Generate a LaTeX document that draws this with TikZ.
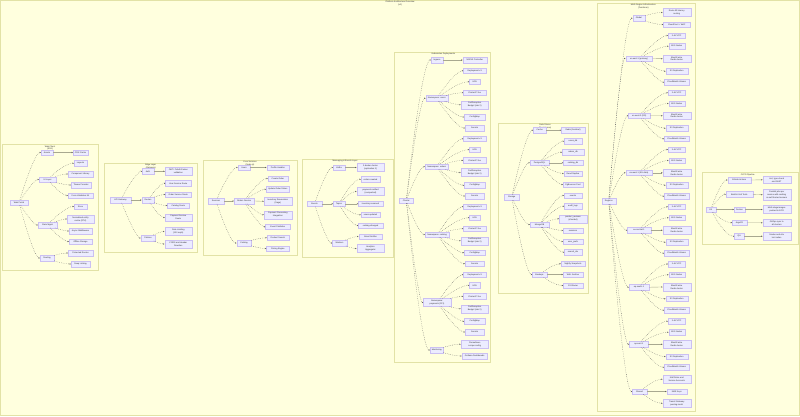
\documentclass[tikz,border=0pt]{standalone}
\usepackage{fontspec}
\setmainfont{Liberation Sans}
\usetikzlibrary{calc,arrows.meta}
\definecolor{nfill}{HTML}{ECECFF}
\definecolor{nline}{HTML}{CBC0F2}
\definecolor{cfill}{HTML}{FFFFDE}
\definecolor{cline}{HTML}{E2E2A6}
\definecolor{txt}{HTML}{333333}
\definecolor{eline}{HTML}{5A5A5A}
\definecolor{hline}{HTML}{A8A890}
\tikzset{
 nd/.style={draw=nline, fill=nfill, line width=0.3pt, rectangle, align=center, inner xsep=1.6pt, inner ysep=1.6pt, minimum height=5.5pt, text=txt, font=\fontsize{2.1}{2.9}\selectfont},
 clus/.style={draw=cline, fill=cfill, line width=0.4pt},
 ctitle/.style={text=txt, align=center, font=\fontsize{2.1}{2.9}\selectfont, inner sep=0pt},
 edge/.style={draw=eline, line width=0.3pt, dash pattern=on 0.6pt off 1.2pt, -{Stealth[length=1.4pt,width=1.2pt]}},
 flatedge/.style={draw=hline, line width=0.35pt, -{Stealth[length=1.4pt,width=1.2pt,color=eline]}},
}
\newcommand\N[5]{\node[nd, minimum width=#4] (#1) at (#2,#3) {#5};}
\newcommand\E[2]{%
 \pgfpointanchor{#1}{center}\pgfgetlastxy{\eax}{\eay}%
 \pgfpointanchor{#2}{center}\pgfgetlastxy{\ebx}{\eby}%
 \pgfmathsetmacro\edd{abs(\eay-\eby)}%
 \ifdim\edd pt<0.6pt
  \draw[flatedge] (#1.east) -- (#2.west);
 \else
  \path ($(#1.east)!0.5!(#2.west)$) coordinate (mm) (mm |- #2.west) coordinate (pp) ($(#1.center)!0.667!(pp)$) coordinate (ca) ($(#2.west)!0.667!(pp)$) coordinate (cb);
  \draw[edge] (#1) .. controls (ca) and (cb) .. (#2.west);
 \fi}
\newcommand\SixE[8]{%
 \N{#11}{474.7}{#3}{22.7}{Deployment x3}\E{#2}{#11}
 \N{#12}{474.7}{#4}{10.7}{HPA}\E{#2}{#12}
 \N{#13}{474.7}{#5}{22.7}{ClusterIP Svc}\E{#2}{#13}
 \N{#14}{474.7}{#6}{27.7}{PodDisruption\\Budget (min 2)}\E{#2}{#14}
 \N{#15}{474.7}{#7}{21}{ConfigMap}\E{#2}{#15}
 \N{#16}{474.7}{#8}{19.3}{Secrets}\E{#2}{#16}}
\newcommand\FiveG[7]{%
 \N{#11}{676.7}{#3}{17.3}{3-AZ VPC}\E{#2}{#11}
 \N{#12}{676.7}{#4}{16}{EKS Nodes}\E{#2}{#12}
 \N{#13}{676.7}{#5}{28}{ElastiCache\\Redis cluster}\E{#2}{#13}
 \N{#14}{676.7}{#6}{22}{S3 Replication}\E{#2}{#14}
 \N{#15}{676.7}{#7}{25}{CloudWatch Alarms}\E{#2}{#15}}
\begin{document}
\begin{tikzpicture}[x=1pt,y=-1pt]
\useasboundingbox (0,0) rectangle (800,416);
% outer
\draw[clus] (0.5,0.5) rectangle (799.5,415.5);
\node[ctitle] (title) at (400,3.4) {Platform Architecture Overview\\(v2)};
% clusters
\draw[clus] (2,144) rectangle (98,270);
\node[ctitle] (ta) at (50,148) {Web Client\\(SPA)};
\draw[clus] (104,163.3) rectangle (196.7,251.7);
\node[ctitle] (tb) at (150.7,166.5) {Edge Layer\\(Gateway)};
\draw[clus] (203.3,160) rectangle (296.7,255.5);
\node[ctitle] (tc) at (250,163.3) {Core Services\\(Node.js)};
\draw[clus] (301.7,159) rectangle (393.5,257);
\node[ctitle] (td) at (345,161) {Messaging \& Events Layer};
\draw[clus] (394,51.7) rectangle (490,362);
\node[ctitle] (te) at (443.3,54.3) {Kubernetes Deployments};
\draw[clus] (498.3,123.3) rectangle (587.7,292.7);
\node[ctitle] (tf) at (545,126.2) {Data Stores\\(Persistence)};
\draw[clus] (596.7,3.3) rectangle (695,411);
\node[ctitle] (tg) at (643.3,6.7) {Multi-Region Infrastructure\\(Terraform)};
\draw[clus] (701.7,172) rectangle (798.3,244);
\node[ctitle] (th) at (747.7,174.8) {CI/CD Pipeline};

% ---- A
\N{ar}{19}{202.5}{18}{Web Portal}
\N{am1}{47}{152.5}{12}{Assets}
\N{am2}{47.5}{179.5}{17}{UI Layer}
\N{am3}{47.5}{225}{19}{State Mgmt}
\N{am4}{47}{258}{14}{Routing}
\N{al1}{80.5}{152.5}{15}{CDN Cache}
\N{al2}{80.5}{163.3}{13}{Layouts}
\N{al3}{80.5}{174}{25}{Component Library}
\N{al4}{81}{185}{20}{Theme Provider}
\N{al5}{80.5}{195.5}{25}{Form Validation Kit}
\N{al6}{80.5}{206.5}{13}{Store}
\N{al7}{80.5}{219}{27}{Normalized entity\\cache (RTK)}
\N{al8}{80.5}{231}{23}{Async Middleware}
\N{al9}{80.5}{241.5}{23}{Offline Storage}
\N{al10}{80.5}{253}{25}{Protected Routes}
\N{al11}{80.5}{264}{19}{Deep Linking}
\E{ar}{am1}\E{ar}{am2}\E{ar}{am3}\E{ar}{am4}
\E{am1}{al1}
\E{am2}{al2}\E{am2}{al3}\E{am2}{al4}\E{am2}{al5}
\E{am3}{al6}\E{am3}{al7}\E{am3}{al8}\E{am3}{al9}
\E{am4}{al10}\E{am4}{al11}

% ---- B
\N{br}{120.5}{200}{21}{API Gateway}
\N{bm1}{148}{171.3}{11.5}{Auth}
\N{bm2}{148}{200}{12.6}{Routes}
\N{bm3}{148}{238}{14.3}{Policies}
\N{bl1}{178.3}{171.3}{26.7}{JWT / OAuth2 token\\validation}
\N{bl2}{178.3}{183.3}{25.7}{User Service Route}
\N{bl3}{178.3}{194.5}{25.7}{Order Service Route}
\N{bl4}{178.3}{205.5}{21.7}{Catalog Route}
\N{bl5}{178.3}{217.5}{26.7}{Payment Service\\Route}
\N{bl6}{178.3}{231.5}{27.3}{Rate Limiting\\(100 req/s)}
\N{bl7}{178.3}{244}{27.3}{CORS and Header\\Rewrites}
\E{br}{bm1}\E{br}{bm2}\E{br}{bm3}
\E{bm1}{bl1}
\E{bm2}{bl2}\E{bm2}{bl3}\E{bm2}{bl4}\E{bm2}{bl5}
\E{bm3}{bl6}\E{bm3}{bl7}

% ---- C
\N{cr}{216}{201}{15.7}{Services}
\N{cm1}{244}{167.5}{12.3}{Users}
\N{cm2}{244}{201}{20}{Orders Service}
\N{cm3}{244}{243}{14.7}{Catalog}
\N{cl1}{277.8}{167.5}{22.3}{Profile Handler}
\N{cl2}{277.8}{178.5}{19.7}{Create Order}
\N{cl3}{277.8}{189.3}{23.3}{Update Order Status}
\N{cl4}{277.8}{201.3}{27.7}{Inventory Reservation\\(Saga)}
\N{cl5}{277.8}{214.7}{27.7}{Payment Processing\\Integration}
\N{cl6}{277.8}{226.8}{24.7}{Event Publisher}
\N{cl7}{277.8}{237.8}{21.7}{Product Search}
\N{cl8}{277.8}{248.5}{22.7}{Pricing Engine}
\E{cr}{cm1}\E{cr}{cm2}\E{cr}{cm3}
\E{cm1}{cl1}
\E{cm2}{cl2}\E{cm2}{cl3}\E{cm2}{cl4}\E{cm2}{cl5}\E{cm2}{cl6}
\E{cm3}{cl7}\E{cm3}{cl8}

% ---- D
\N{dr}{314.5}{203.8}{14.4}{Events}
\N{dm1}{339}{167.5}{11.7}{Kafka}
\N{dm2}{339}{203.8}{11.7}{Topics}
\N{dm3}{339.5}{243}{14.4}{Workers}
\N{dl1}{370.5}{167.5}{27.6}{3-broker cluster\\(replication 3)}
\N{dl2}{370.5}{179.3}{19}{orders.created}
\N{dl3}{370.5}{191.5}{27.6}{payments.settled\\(compacted)}
\N{dl4}{370.5}{203.8}{24.3}{inventory.reserved}
\N{dl5}{370.5}{214.8}{19}{users.updated}
\N{dl6}{370.5}{225.5}{24.3}{catalog.changed}
\N{dl7}{370.5}{236.5}{23.7}{Email Notifier}
\N{dl8}{370.5}{248.5}{27.6}{Analytics\\Aggregator}
\E{dr}{dm1}\E{dr}{dm2}\E{dr}{dm3}
\E{dm1}{dl1}
\E{dm2}{dl2}\E{dm2}{dl3}\E{dm2}{dl4}\E{dm2}{dl5}\E{dm2}{dl6}
\E{dm3}{dl7}\E{dm3}{dl8}

% ---- E
\N{er}{406.3}{200.5}{14}{Cluster}
\N{em1}{437}{60}{11.7}{Ingress}
\N{em2}{436.7}{98.3}{22}{Namespace: users}
\N{em3}{436.7}{166.7}{23.3}{Namespace: orders}
\N{em4}{437}{234.5}{24}{Namespace: catalog}
\N{em5}{437}{302.5}{27.3}{Namespace:\\payments (PCI)}
\N{em6}{436.7}{350}{13.3}{Monitoring}
\E{er}{em1}\E{er}{em2}\E{er}{em3}\E{er}{em4}\E{er}{em5}\E{er}{em6}
\N{el0}{474.7}{60}{24}{NGINX Controller}
\E{em1}{el0}
\SixE{ea}{em2}{70.8}{81.8}{92.7}{104.7}{117}{128}
\SixE{eb}{em3}{138.8}{149.7}{160.3}{172.5}{185.3}{196}
\SixE{ec}{em4}{206.7}{217.7}{228.7}{240.7}{252.7}{263.7}
\SixE{ed}{em5}{274.7}{285.3}{296.3}{308.7}{321.3}{332}
\N{ee1}{474.7}{344.2}{27.7}{Prometheus\\scrape config}
\N{ee2}{474.7}{356}{25.7}{Grafana Dashboards}
\E{em6}{ee1}\E{em6}{ee2}

% ---- F
\N{fr}{511.7}{197.2}{15.3}{Storage}
\N{fm1}{539.7}{130.2}{12.7}{Cache}
\N{fm2}{539.5}{162.8}{19}{PostgreSQL}
\N{fm3}{539.5}{224.5}{19}{MongoDB}
\N{fm4}{539.5}{274.5}{14.4}{Backups}
\E{fr}{fm1}\E{fr}{fm2}\E{fr}{fm3}\E{fr}{fm4}
\N{fl0}{573}{130.2}{23.3}{Redis (Sentinel)}
\E{fm1}{fl0}
\N{fa1}{573}{141.2}{17.7}{users\_db}
\N{fa2}{573}{152.2}{21.7}{orders\_db}
\N{fa3}{573}{162.8}{19.3}{catalog\_db}
\N{fa4}{573}{173.5}{18.3}{Read Replica}
\N{fa5}{573}{184.5}{20}{PgBouncer Pool}
\E{fm2}{fa1}\E{fm2}{fa2}\E{fm2}{fa3}\E{fm2}{fa4}\E{fm2}{fa5}
\N{fb1}{573}{195.5}{18}{events}
\N{fb2}{573}{206.2}{17.3}{audit\_logs}
\N{fb3}{573}{218.8}{27.7}{product\_reviews\\(sharded)}
\N{fb4}{573}{230.5}{19.7}{sessions}
\N{fb5}{573}{241.5}{19.7}{user\_prefs}
\N{fb6}{573}{252.2}{17.3}{search\_idx}
\E{fm3}{fb1}\E{fm3}{fb2}\E{fm3}{fb3}\E{fm3}{fb4}\E{fm3}{fb5}\E{fm3}{fb6}
\N{fc1}{573}{263.8}{24}{Nightly Snapshots}
\N{fc2}{573}{274.5}{20}{WAL Archive}
\N{fc3}{573}{285.5}{19.3}{S3 Glacier}
\E{fm4}{fc1}\E{fm4}{fc2}\E{fm4}{fc3}

% ---- G
\N{gr}{608.7}{201.2}{14}{Regions}
\N{gm1}{638.8}{18.2}{12.3}{Global}
\N{gm2}{639}{58.5}{26.7}{us-east-1 (primary)}
\N{gm3}{639.2}{115.8}{21.7}{us-west-2 (DR)}
\N{gm4}{639}{172.8}{26.7}{eu-west-1 (EU data)}
\N{gm5}{639}{230.2}{23.3}{eu-central-1}
\N{gm6}{639}{287.2}{20}{ap-south-1}
\N{gm7}{638.8}{344.2}{19}{ap-east-1}
\N{gm8}{639.5}{391.5}{14.4}{Shared}
\E{gr}{gm1}\E{gr}{gm2}\E{gr}{gm3}\E{gr}{gm4}\E{gr}{gm5}\E{gr}{gm6}\E{gr}{gm7}\E{gr}{gm8}
\N{gg1}{676.7}{12.5}{28}{Route 53 latency\\routing}
\N{gg2}{676.7}{24.5}{26.7}{CloudFront + WAF}
\E{gm1}{gg1}\E{gm1}{gg2}
\FiveG{ga}{gm2}{35.5}{46.2}{58.7}{71.2}{82.2}
\FiveG{gb}{gm3}{92.8}{103.5}{115.7}{128.2}{138.8}
\FiveG{gc}{gm4}{149.5}{160.5}{172.8}{185.2}{196.2}
\FiveG{gd}{gm5}{206.8}{217.8}{230.2}{242.2}{253.2}
\FiveG{ge}{gm6}{264}{274.8}{287}{298.8}{310.2}
\FiveG{gf}{gm7}{321.2}{332.2}{344.2}{356.5}{367.2}
\N{gh1}{676.7}{379.2}{28}{IAM Roles and\\Service Accounts}
\N{gh2}{676.7}{391.5}{20}{KMS Keys}
\N{gh3}{676.7}{403.3}{28}{Transit Gateway\\peering mesh}
\E{gm8}{gh1}\E{gm8}{gh2}\E{gm8}{gh3}

% ---- H
\N{hr}{710.7}{209.5}{10}{Git}
\N{hm1}{739.2}{180}{23}{GitHub Actions}
\N{hm2}{739.3}{194.3}{26.7}{Build \& Unit Tests}
\N{hm3}{739.5}{209.5}{11}{Docker}
\N{hm4}{739.5}{222.7}{14.4}{ArgoCD}
\N{hm5}{739.2}{236.2}{9.7}{QA}
\E{hr}{hm1}\E{hr}{hm2}\E{hr}{hm3}\E{hr}{hm4}\E{hr}{hm5}
\N{hl1}{776.7}{179.8}{28}{Lint, type-check\\and SAST}
\N{hl2}{776.7}{194.7}{28}{Parallel jobs per\\service with caching\\on self-hosted runners}
\N{hl3}{776.7}{209.5}{28}{Multi-stage images\\pushed to ECR}
\N{hl4}{776.7}{222.8}{28}{GitOps sync to\\all clusters}
\N{hl5}{776.7}{236.2}{28}{Smoke and e2e\\test suites}
\E{hm1}{hl1}\E{hm2}{hl2}\E{hm3}{hl3}\E{hm4}{hl4}\E{hm5}{hl5}
\end{tikzpicture}
\end{document}
